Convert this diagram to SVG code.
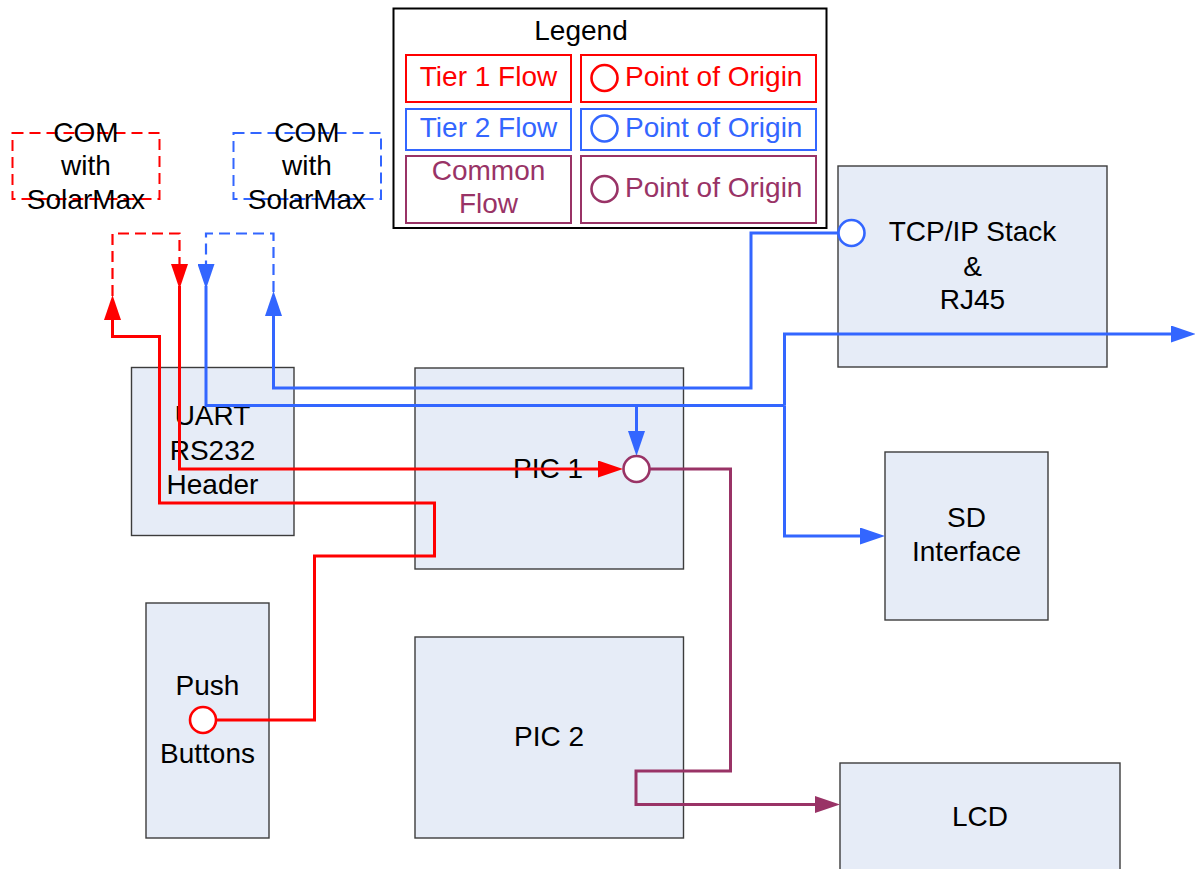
<svg xmlns="http://www.w3.org/2000/svg" width="1195" height="869" viewBox="0 0 1195 869">
  <style>
    text { font-family: "Liberation Sans", Arial, sans-serif; font-size: 28px; fill: #000; }
    .c { text-anchor: middle; }
    .box { fill: #E6ECF7; stroke: #3c3c3c; stroke-width: 1.4; }
    .com { fill: none; stroke-width: 2; stroke-dasharray: 11 6; }
    .ln { fill: none; stroke-width: 3; stroke-linejoin: miter; }
    .dash { stroke-width: 2.2; stroke-dasharray: 11 6; }
    .red { stroke: #FF0000; }
    .blue { stroke: #3366FF; }
    .pur { stroke: #993366; }
    .tred { fill: #FF0000; }
    .tblue { fill: #3366FF; }
    .tpur { fill: #993366; }
    .origin { fill: #FFFFFF; stroke-width: 2.6; }
    .key { fill: #FFFFFF; stroke-width: 2; }
  </style>
  <defs>
    <marker id="arrRed" viewBox="0 0 25 17" refX="0" refY="8.5" markerWidth="25" markerHeight="17" markerUnits="userSpaceOnUse" orient="auto">
      <path d="M0,0 L25,8.5 L0,17 Z" fill="#FF0000"/>
    </marker>
    <marker id="arrBlue" viewBox="0 0 25 17" refX="0" refY="8.5" markerWidth="25" markerHeight="17" markerUnits="userSpaceOnUse" orient="auto">
      <path d="M0,0 L25,8.5 L0,17 Z" fill="#3366FF"/>
    </marker>
    <marker id="arrPur" viewBox="0 0 25 17" refX="0" refY="8.5" markerWidth="25" markerHeight="17" markerUnits="userSpaceOnUse" orient="auto">
      <path d="M0,0 L25,8.5 L0,17 Z" fill="#993366"/>
    </marker>
  </defs>

  <rect width="1195" height="869" fill="#FFFFFF"/>

  <!-- Legend -->
  <g id="legend">
    <rect x="393.5" y="8.5" width="433" height="219.5" fill="#FFFFFF" stroke="#000" stroke-width="2"/>
    <text class="c" x="581" y="40">Legend</text>
    <rect class="key red" x="406" y="55" width="165" height="47"/>
    <rect class="key red" x="581" y="55" width="235" height="47"/>
    <rect class="key blue" x="406" y="109" width="165" height="41"/>
    <rect class="key blue" x="581" y="109" width="235" height="41"/>
    <rect class="key pur" x="406" y="156" width="165" height="67"/>
    <rect class="key pur" x="581" y="156" width="235" height="67"/>
    <text class="c tred" x="488.5" y="86">Tier 1 Flow</text>
    <text class="c tblue" x="488.5" y="137">Tier 2 Flow</text>
    <text class="c tpur" x="488.5" y="180">Common</text>
    <text class="c tpur" x="488.5" y="213">Flow</text>
    <circle class="origin red" cx="604.5" cy="78" r="13"/>
    <circle class="origin blue" cx="604.5" cy="128.5" r="13"/>
    <circle class="origin pur" cx="604.5" cy="189" r="13"/>
    <text class="tred" x="625" y="86">Point of Origin</text>
    <text class="tblue" x="625" y="137">Point of Origin</text>
    <text class="tpur" x="625" y="197">Point of Origin</text>
  </g>

  <!-- COM ports -->
  <g id="com-tier1">
    <rect class="com red" x="12.5" y="133" width="147" height="66"/>
    <text class="c" x="86" y="142">COM</text>
    <text class="c" x="86" y="175">with</text>
    <text class="c" x="86" y="209">SolarMax</text>
  </g>
  <g id="com-tier2">
    <rect class="com blue" x="233.5" y="133" width="147.5" height="66"/>
    <text class="c" x="307" y="142">COM</text>
    <text class="c" x="307" y="175">with</text>
    <text class="c" x="307" y="209">SolarMax</text>
  </g>

  <!-- Blocks -->
  <g id="uart">
    <rect class="box" x="131.5" y="367.5" width="162.5" height="168"/>
    <text class="c" x="212.5" y="425">UART</text>
    <text class="c" x="212.5" y="460">RS232</text>
    <text class="c" x="212.5" y="494">Header</text>
  </g>
  <g id="pic1">
    <rect class="box" x="415" y="368" width="268.5" height="201"/>
    <text class="c" x="548" y="478">PIC 1</text>
  </g>
  <g id="pic2">
    <rect class="box" x="415" y="637" width="268.5" height="201"/>
    <text class="c" x="549" y="746">PIC 2</text>
  </g>
  <g id="push-buttons">
    <rect class="box" x="146" y="603" width="123" height="235"/>
    <text class="c" x="207.5" y="695">Push</text>
    <text class="c" x="207.5" y="763">Buttons</text>
  </g>
  <g id="tcpip">
    <rect class="box" x="838" y="166" width="269" height="201"/>
    <text class="c" x="972.5" y="241">TCP/IP Stack</text>
    <text class="c" x="972.5" y="276">&amp;</text>
    <text class="c" x="972.5" y="309">RJ45</text>
  </g>
  <g id="sd">
    <rect class="box" x="885" y="452" width="163" height="168"/>
    <text class="c" x="966.5" y="527">SD</text>
    <text class="c" x="966.5" y="561">Interface</text>
  </g>
  <g id="lcd">
    <rect class="box" x="840" y="763" width="280" height="130"/>
    <text class="c" x="980" y="826">LCD</text>
  </g>

  <!-- Flows -->
  <g id="connectors">
    <!-- tier 1 -->
    <path class="ln red dash" d="M112.5,296 V233.5 H179.5 V264" marker-end="url(#arrRed)"/>
    <path class="ln red" d="M179.5,286 V469 H598" marker-end="url(#arrRed)"/>
    <path class="ln red" d="M216,720 H314.5 V556 H434.5 V503 H159.5 V336.5 H112.5 V320" marker-end="url(#arrRed)"/>
    <!-- tier 2 -->
    <path class="ln blue dash" d="M273.5,292 V233.5 H206 V264" marker-end="url(#arrBlue)"/>
    <path class="ln blue" d="M206,286 V405.5 H784.5"/>
    <path class="ln blue" d="M636.5,405.5 V431" marker-end="url(#arrBlue)"/>
    <path class="ln blue" d="M784.5,405.5 V334 H1171" marker-end="url(#arrBlue)"/>
    <path class="ln blue" d="M784.5,405.5 V536 H860" marker-end="url(#arrBlue)"/>
    <path class="ln blue" d="M839,233 H751 V388 H273.5 V316" marker-end="url(#arrBlue)"/>
    <!-- common -->
    <path class="ln pur" d="M650,469 H730.5 V771 H636 V804.5 H815" marker-end="url(#arrPur)"/>
  </g>

  <!-- Points of origin -->
  <g id="origins">
    <circle class="origin pur" cx="636.5" cy="469" r="13"/>
    <circle class="origin red" cx="203" cy="720" r="13"/>
    <circle class="origin blue" cx="851.5" cy="233" r="13"/>
  </g>
</svg>
